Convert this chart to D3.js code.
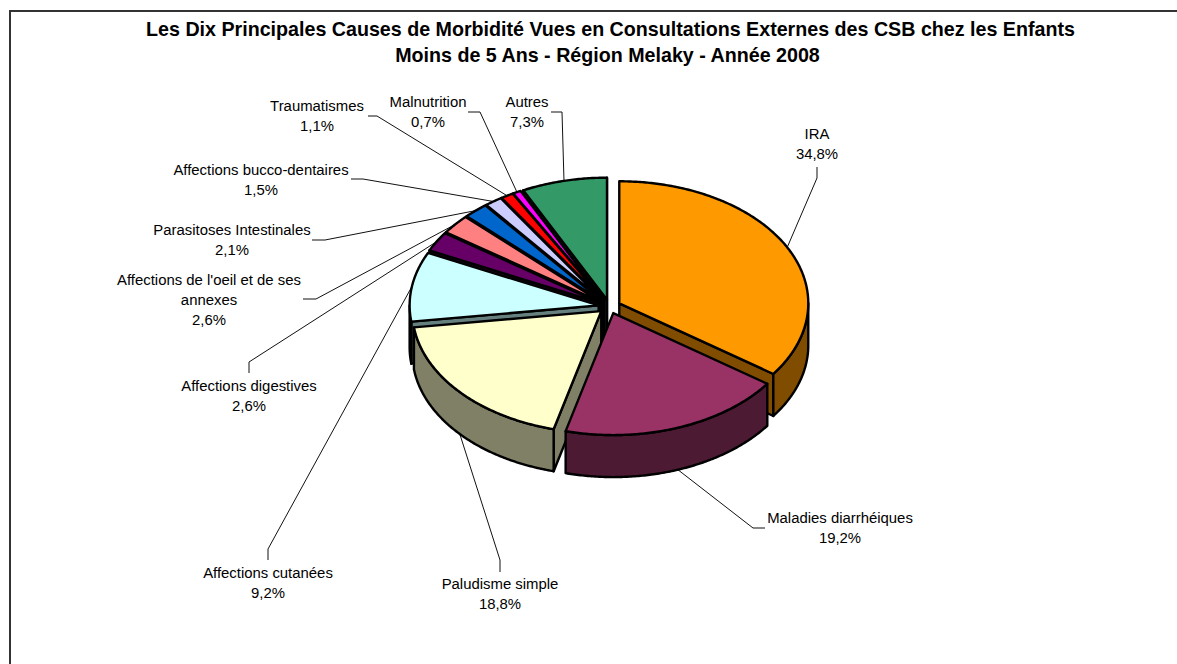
<!DOCTYPE html>
<html><head><meta charset="utf-8">
<script src="https://cdnjs.cloudflare.com/ajax/libs/d3/7.8.5/d3.min.js"></script>
<style>html,body{margin:0;padding:0;background:#fff;overflow:hidden}svg{display:block}text{font-family:"Liberation Sans",Arial,sans-serif;fill:#000}</style>
</head><body><svg id="c" width="1177" height="664"></svg>
<script>
const titleLines = ["Les Dix Principales Causes de Morbidité Vues en Consultations Externes des CSB chez les Enfants",
                    "Moins de 5 Ans - Région Melaky - Année 2008"];
const categories = ["IRA","Maladies diarrhéiques","Paludisme simple","Affections cutanées","Affections digestives","Affections de l'oeil et de ses annexes","Parasitoses Intestinales","Affections bucco-dentaires","Traumatismes","Malnutrition","Autres"];
const values = [34.8,19.2,18.8,9.2,2.6,2.6,2.1,1.5,1.1,0.7,7.3];
const colors = ["#FF9900","#993366","#FFFFCC","#CCFFFF","#660066","#FF8080","#0066CC","#CCCCFF","#FF0000","#FF00FF","#339966"];

// label layout, separate from the data: [centre x, first baseline, elbow x, elbow y, tail x, tail y]
const labelLayout = [
  [817,139, 817,178, 817,167],
  [840,523, 753,528, 765,528],
  [500,589, 500,560, 500,572],
  [268,578, 268,549, 268,560],
  [249,391, 249,362, 249,373],
  [209,285, 316,299, 303,299],
  [232,235, 325,240, 312,240],
  [261,175, 363,179, 351,179],
  [317,111, 377,116, 368,116],
  [428,107, 480,112, 468,112],
  [527,107, 562,112, 551,112]
];
const wrapped = {"Affections de l'oeil et de ses annexes":["Affections de l'oeil et de ses","annexes"]};

const cx=609.5, cy=306.5, rx=189, ry=122, depth=42, exX=11, exY=7;
const svg=d3.select("#c");
svg.append("path").attr("d","M10,664V11H1177").attr("fill","none").attr("stroke","#333").attr("stroke-width",2);

svg.append("g").selectAll("text").data(titleLines).join("text")
  .attr("x",(d,i)=>i?607.5:610.5).attr("y",(d,i)=>36+i*26).attr("text-anchor","middle")
  .attr("font-weight","bold").attr("font-size",19.67).text(d=>d);

const pie=d3.pie().sort(null).value(d=>d).startAngle(0).endAngle(2*Math.PI);
const arcs=pie(values).map((a,i)=>{
  const mid=(a.startAngle+a.endAngle)/2;
  return {i,a0:a.startAngle,a1:a.endAngle,mid,
    ax:cx+exX*Math.sin(mid), ay:cy-exY*Math.cos(mid)};
});
const px=(s,t)=>s.ax+rx*Math.sin(t), py=(s,t,dz=0)=>s.ay-ry*Math.cos(t)+dz;
function arcPts(s,t0,t1,dz){
  const n=Math.max(2,Math.ceil(Math.abs(t1-t0)/0.01)), out=[];
  d3.range(n+1).forEach(k=>{const t=t0+(t1-t0)*k/n; out.push([px(s,t),py(s,t,dz)]);});
  return out;
}
const line=d3.line().curve(d3.curveLinear);
const dark=c=>{const r=d3.rgb(c);return d3.rgb(r.r*.5,r.g*.5,r.b*.5).formatHex();};
function drawSlice(s){
  const g=svg.append("g").attr("stroke","#000").attr("stroke-width",2.4).attr("stroke-linejoin","round");
  const side=dark(colors[s.i]);
  [s.a0,s.a1].forEach((t,j)=>{
    const vis = j===0 ? Math.sin(t)<0 : Math.sin(t)>0;
    if(!vis) return;
    g.append("path").attr("d",line([[s.ax,s.ay],[px(s,t),py(s,t)],[px(s,t),py(s,t,depth)],[s.ax,s.ay+depth]])+"Z").attr("fill",side);
  });
  const t0=Math.max(s.a0,Math.PI/2), t1=Math.min(s.a1,3*Math.PI/2);
  if(t1>t0){
    const pts=arcPts(s,t0,t1,0).concat(arcPts(s,t1,t0,depth));
    g.append("path").attr("d",line(pts)+"Z").attr("fill",side);
  }
  const top=[[s.ax,s.ay]].concat(arcPts(s,s.a0,s.a1,0));
  g.append("path").attr("d",line(top)+"Z").attr("fill",colors[s.i]);
}
const order=[10,9,8,7,6,5,4,3,0,2,1];

const leaderG=svg.append("g").attr("fill","none").attr("stroke","#111").attr("stroke-width",1);
arcs.forEach(s=>{
  const L=labelLayout[s.i];
  const front=Math.cos(s.mid)<0;
  const end=[px(s,s.mid),py(s,s.mid,front?depth:0)];
  leaderG.append("path").attr("d",line([[L[4],L[5]],[L[2],L[3]],end]));
});
order.forEach(i=>drawSlice(arcs[i]));

const lab=svg.append("g").attr("font-size",14.9);
categories.forEach((c,i)=>{
  const L=labelLayout[i];
  const lines=(wrapped[c]||[c]).concat([d3.format(".1f")(values[i]).replace(".",",")+"%"]);
  lines.forEach((t,k)=>lab.append("text").attr("x",L[0]).attr("y",L[1]+k*20).attr("text-anchor","middle").text(t));
});
</script></body></html>
